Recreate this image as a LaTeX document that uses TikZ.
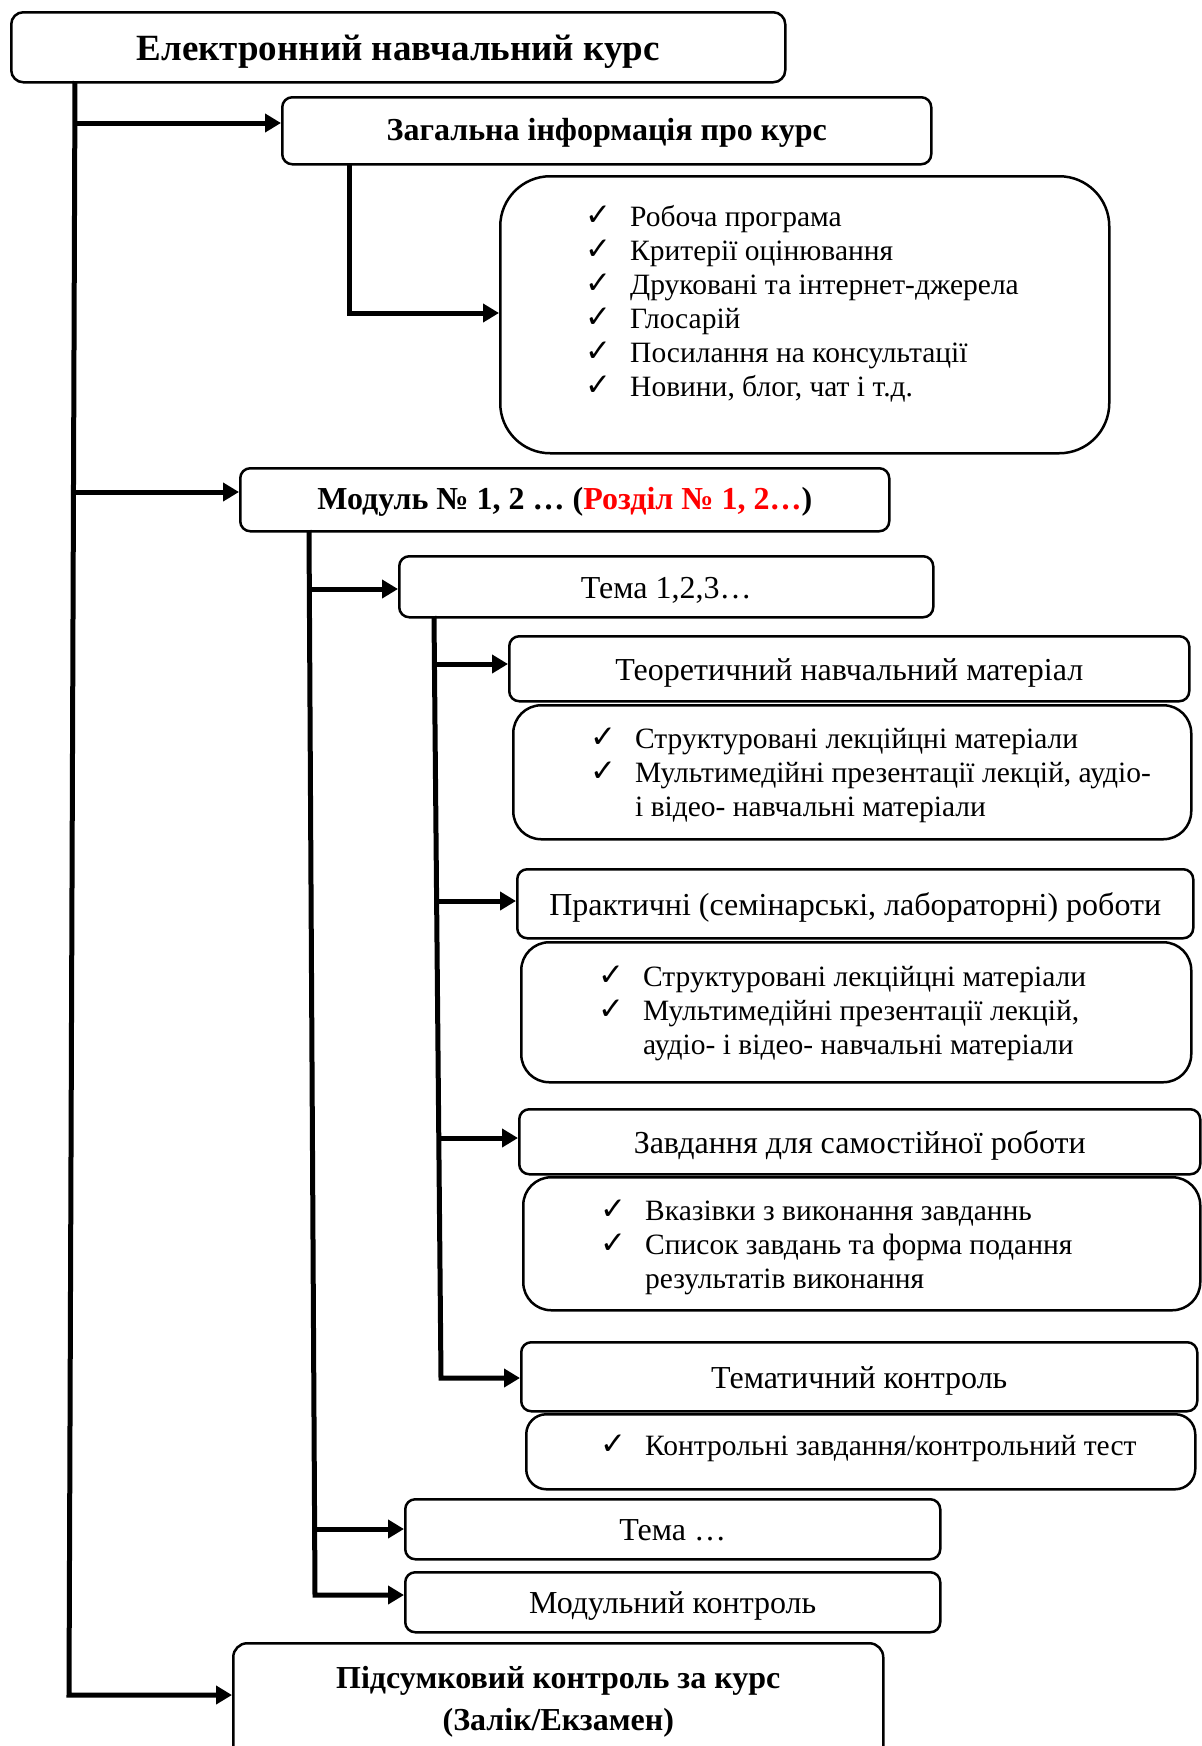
\documentclass[tikz,border=0pt]{standalone}
\usepackage{fontspec}
\setmainfont{Liberation Serif}
\newfontfamily\symfont{DejaVu Sans}
\usetikzlibrary{arrows.meta,calc}
\newcommand{\chk}{\makebox[45pt][l]{\raisebox{1pt}{\symfont\fontsize{31}{31}\selectfont ✓}}}
\tikzset{
  box/.style={draw, line width=2.5pt, rounded corners=10pt, inner sep=0pt, anchor=north west, align=center, font=\fontsize{32}{38}\selectfont},
  one/.style={text height=25pt, text depth=2pt},
  bone/.style={text height=23pt, text depth=4pt},
  bbox/.style={box, font=\bfseries\fontsize{32}{42}\selectfont},
  lbox/.style={box, rounded corners=28pt},
  lst/.style={inner sep=0pt, anchor=base west, font=\fontsize{29.5}{34}\selectfont},
  arr/.style={line width=5pt, -{Triangle[length=16pt,width=18pt]}}
}
\begin{document}
\begin{tikzpicture}[x=1pt,y=-1pt]
\useasboundingbox (0,0) rectangle (1202,1746);
\clip (0,0) rectangle (1202,1746);
% boxes
\node[bbox, rounded corners=12pt, font=\bfseries\fontsize{37}{42}\selectfont, text height=29pt, text depth=3pt, minimum width=774pt, minimum height=70pt] (top) at (10,11) {Електронний навчальний курс};
\node[bbox, bone, minimum width=649pt, minimum height=67pt] (gen) at (281,96) {Загальна інформація про курс};
\node[lbox, rounded corners=50pt, minimum width=609pt, minimum height=277pt] (info) at (499,175) {};
\node[lst] (infol) at (585,226) {\begin{tabular}[t]{@{}l@{}l@{}}
\chk & Робоча програма\\
\chk & Критерії оцінювання\\
\chk & Друковані та інтернет-джерела\\
\chk & Глосарій\\
\chk & Посилання на консультації\\
\chk & Новини, блог, чат і т.д.
\end{tabular}};
\node[bbox, bone, minimum width=649pt, minimum height=63pt] (mod) at (239,467) {Модуль № 1, 2 … (\textcolor{red}{Розділ № 1, 2…})};
\node[box, one, minimum width=534pt, minimum height=61pt] (tema1) at (398,555) {Тема 1,2,3…};
\node[box, one, minimum width=680pt, minimum height=65pt] (theory) at (508,635) {Теоретичний навчальний матеріал};
\node[lbox, minimum width=678pt, minimum height=134pt] (sub1) at (512,704) {};
\node[lst] (sub1l) at (590,748) {\begin{tabular}[t]{@{}l@{}l@{}}
\chk & Структуровані лекційцні матеріали\\
\chk & Мультимедійні презентації лекцій, аудіо-\\
 & і відео- навчальні матеріали
\end{tabular}};
\node[box, one, minimum width=676pt, minimum height=69pt] (prac) at (516,868) {Практичні (семінарські, лабораторні) роботи};
\node[lbox, minimum width=670pt, minimum height=140pt] (sub2) at (520,941) {};
\node[lst] (sub2l) at (598,986) {\begin{tabular}[t]{@{}l@{}l@{}}
\chk & Структуровані лекційцні матеріали\\
\chk & Мультимедійні презентації лекцій,\\
 & аудіо- і відео- навчальні матеріали
\end{tabular}};
\node[box, one, minimum width=681pt, minimum height=65pt] (task) at (518,1108) {Завдання для самостійної роботи};
\node[lbox, minimum width=677pt, minimum height=133pt] (sub3) at (522,1176) {};
\node[lst] (sub3l) at (600,1220) {\begin{tabular}[t]{@{}l@{}l@{}}
\chk & Вказівки з виконання завданнь\\
\chk & Список завдань та форма подання\\
 & результатів виконання
\end{tabular}};
\node[box, one, minimum width=676pt, minimum height=69pt] (tctrl) at (520,1341) {Тематичний контроль};
\node[lbox, rounded corners=20pt, minimum width=669pt, minimum height=75pt] (sub4) at (525,1413) {};
\node[lst] (sub4l) at (600,1455) {\chk Контрольні завдання/контрольний тест};
\node[box, one, minimum width=535pt, minimum height=60pt] (tema2) at (404,1498) {Тема …};
\node[box, one, minimum width=535pt, minimum height=60pt] (modc) at (404,1571) {Модульний контроль};
\node[bbox, rounded corners=14pt, minimum width=650pt, minimum height=118pt] (final) at (232,1642) {Підсумковий контроль за курс\\(Залік/Екзамен)};
% main trunk
\coordinate (t0) at (75,81);
\coordinate (t1) at (69,1695);
\draw[arr] (t0) -- (t1) -- (t1 -| final.west);
\coordinate (a1) at (75,123);
\draw[arr] (a1) -- (a1 -| gen.west);
\coordinate (a2) at (74,492);
\draw[arr] (a2) -- (a2 -| mod.west);
% general info
\coordinate (g0) at (349,163);
\coordinate (g1) at (349,313);
\draw[arr] (g0) -- (g1) -- (g1 -| info.west);
% module spine
\coordinate (m0) at (309,530);
\coordinate (m1) at (315,1595);
\draw[arr] (m0) -- (m1) -- (m1 -| modc.west);
\coordinate (mb1) at (310,589);
\draw[arr] (mb1) -- (mb1 -| tema1.west);
\coordinate (mb2) at (314,1529);
\draw[arr] (mb2) -- (mb2 -| tema2.west);
% topic spine
\coordinate (s0) at (434,616);
\coordinate (s1) at (441,1378);
\draw[arr] (s0) -- (s1) -- (s1 -| tctrl.west);
\coordinate (sb1) at (435,664);
\draw[arr] (sb1) -- (sb1 -| theory.west);
\coordinate (sb2) at (437,901);
\draw[arr] (sb2) -- (sb2 -| prac.west);
\coordinate (sb3) at (439,1138);
\draw[arr] (sb3) -- (sb3 -| task.west);
\end{tikzpicture}
\end{document}
